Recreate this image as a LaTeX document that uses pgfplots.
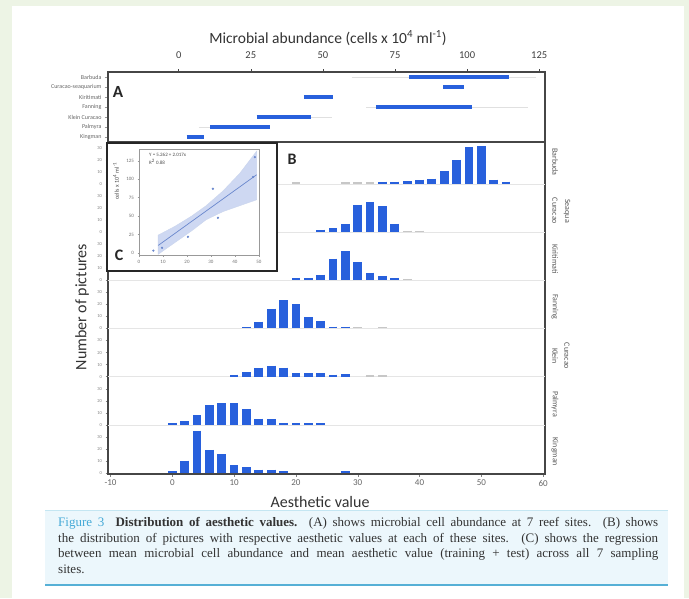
\documentclass[border=0pt]{standalone}
\usepackage{pgfplots}
\pgfplotsset{compat=1.18}
\usepackage{fontspec}
\setmainfont{Liberation Serif}
\newfontfamily\chartfont{Carlito}
\definecolor{barblue}{RGB}{40,96,220}
\definecolor{pagegreen}{RGB}{237,244,229}
\definecolor{capfill}{RGB}{236,247,252}
\definecolor{capline}{RGB}{86,176,214}
\definecolor{capthin}{RGB}{196,230,242}
\definecolor{figblue}{RGB}{70,170,215}
\definecolor{framec}{RGB}{70,70,70}
\definecolor{bandblue}{RGB}{198,210,240}
\definecolor{regline}{RGB}{105,135,205}
\begin{document}
\begin{tikzpicture}
\fill[pagegreen] (0pt,0pt) rectangle (689pt,-598pt);
\path[use as bounding box] (0pt,0pt) rectangle (689pt,-598pt);
\fill[white] (12pt,-6pt) rectangle (684pt,-598pt);
% caption box
\fill[capfill] (45pt,-510pt) rectangle (668pt,-586pt);
\draw[capthin, line width=0.8pt] (45pt,-510pt) -- (668pt,-510pt);
\draw[capline, line width=2.6pt] (45pt,-585pt) -- (668pt,-585pt);
\node[anchor=north west, inner sep=0pt, font=\fontsize{13}{15.7}\selectfont, text=black!80, align=left] at (58pt,-517pt) {%
\makebox[600pt][s]{\textcolor{figblue}{Figure 3}\ \ \textbf{Distribution of aesthetic values.} (A) shows microbial cell abundance at 7 reef sites. (B) shows}\\
\makebox[600pt][s]{the distribution of pictures with respective aesthetic values at each of these sites. (C) shows the regression}\\
\makebox[600pt][s]{between mean microbial cell abundance and mean aesthetic value (training + test) across all 7 sampling}\\
sites.};

% ---------------- Panel A ----------------
\begin{axis}[
  at={(108pt,-72pt)}, anchor=north west,
  scale only axis, width=437pt, height=70pt,
  xmin=-24.5, xmax=127, ymin=0.5, ymax=7.5,
  axis line style={draw=framec, line width=1.4pt},
  /pgf/number format/assume math mode=true,
  xtick={0,25,50,75,100,125},
  xtick pos=right, xticklabel pos=right,
  ytick pos=left,
  tick align=outside, major tick length=3pt,
  tick style={draw=framec, line width=0.5pt},
  ytick={1,...,7},
  yticklabels={Kingman,Palmyra,Klein Curacao,Fanning,Kiritimati,Curacao-seaquarium,Barbuda},
  y tick label style={font=\chartfont\fontsize{6}{6}\selectfont, text=black!60},
  x tick label style={font=\chartfont\fontsize{10.5}{11}\selectfont, text=black!75, yshift=7pt},
  y tick style={draw=black!40, line width=0.3pt},
]
\addplot[black!12, line width=1pt] coordinates {(60,7) (124,7)};
\addplot[black!12, line width=1pt] coordinates {(65,4) (121,4)};
\addplot[black!12, line width=1pt] coordinates {(44,3) (53,3)};
\addplot[black!12, line width=1pt] coordinates {(7,2) (12,2)};
\addplot[barblue, line width=3.6pt] coordinates {(80,7) (114.5,7)};
\addplot[barblue, line width=3.6pt] coordinates {(91.7,6) (99,6)};
\addplot[barblue, line width=3.6pt] coordinates {(43.4,5) (53.5,5)};
\addplot[barblue, line width=3.6pt] coordinates {(68.4,4) (101.7,4)};
\addplot[barblue, line width=3.6pt] coordinates {(27,3) (46,3)};
\addplot[barblue, line width=3.6pt] coordinates {(11,2) (31.6,2)};
\addplot[barblue, line width=3.6pt] coordinates {(2.8,1) (8.7,1)};
\end{axis}

% ---------------- Panel B ----------------
\begin{axis}[
  at={(108pt,-142pt)}, anchor=north west,
  scale only axis, width=437pt, height=332pt,
  xmin=-10.4, xmax=60.3, ymin=-0.2, ymax=68.7,
  axis line style={draw=framec, line width=1.4pt},
  /pgf/number format/assume math mode=true,
  xtick={-10,0,10,20,30,40,50,60},
  xtick pos=left, ytick pos=left,
  tick align=outside, major tick length=2.5pt,
  tick style={draw=black!50, line width=0.4pt},
  x tick label style={font=\chartfont\fontsize{9}{9}\selectfont, text=black!60},
  ytick={0,2.5,5,7.5,10,12.5,15,17.5,20,22.5,25,27.5,30,32.5,35,37.5,40,42.5,45,47.5,50,52.5,55,57.5,60,62.5,65,67.5},
  yticklabels={0,10,20,30,0,10,20,30,0,10,20,30,0,10,20,30,0,10,20,30,0,10,20,30,0,10,20,30},
  y tick label style={font=\chartfont\fontsize{4.5}{5}\selectfont, text=black!50},
]
% faint baselines
\addplot[black!10, line width=0.5pt] coordinates {(-10.4,10) (60.3,10)};
\addplot[black!10, line width=0.5pt] coordinates {(-10.4,20) (60.3,20)};
\addplot[black!10, line width=0.5pt] coordinates {(-10.4,30) (60.3,30)};
\addplot[black!10, line width=0.5pt] coordinates {(-10.4,40) (60.3,40)};
\addplot[black!10, line width=0.5pt] coordinates {(-10.4,50) (60.3,50)};
\addplot[black!10, line width=0.5pt] coordinates {(-10.4,60) (60.3,60)};
% faint grey tiny bars
\addplot[draw=none, mark=none, error bars/.cd, y dir=minus, y explicit, error mark=none,
  error bar style={draw=black!22, line width=8.8pt}] coordinates {
 (20,60.35) -= (0,0.35) (28,60.35) -= (0,0.35) (30,60.35) -= (0,0.35) (32,60.35) -= (0,0.35)
 (38,50.3) -= (0,0.3) (40,50.3) -= (0,0.3)
 (38,40.3) -= (0,0.3)
 (30,30.3) -= (0,0.3) (34,30.3) -= (0,0.3)
 (32,20.3) -= (0,0.3) (34,20.3) -= (0,0.3)
};
% histogram bars
\addplot[draw=none, mark=none, error bars/.cd, y dir=minus, y explicit, error mark=none,
  error bar style={draw=barblue, line width=8.8pt}] coordinates {
 (34,60.5) -= (0,0.5) (36,60.5) -= (0,0.5) (38,60.6) -= (0,0.6) (40,60.9) -= (0,0.9)
 (42,61.1) -= (0,1.1) (44,62.7) -= (0,2.7) (46,65.0) -= (0,5.0) (48,67.7) -= (0,7.7)
 (50,67.8) -= (0,7.8) (52,60.9) -= (0,0.9) (54,60.5) -= (0,0.5)
 (24,50.5) -= (0,0.5) (26,50.8) -= (0,0.8) (28,51.7) -= (0,1.7) (30,55.7) -= (0,5.7)
 (32,56.3) -= (0,6.3) (34,55.4) -= (0,5.4) (36,51.7) -= (0,1.7)
 (20,40.5) -= (0,0.5) (22,40.5) -= (0,0.5) (24,41.2) -= (0,1.2) (26,44.5) -= (0,4.5)
 (28,46.0) -= (0,6.0) (30,43.7) -= (0,3.7) (32,41.6) -= (0,1.6) (34,40.9) -= (0,0.9)
 (36,40.5) -= (0,0.5)
 (12,30.4) -= (0,0.4) (14,31.4) -= (0,1.4) (16,34.1) -= (0,4.1) (18,35.9) -= (0,5.9)
 (20,35.0) -= (0,5.0) (22,32.3) -= (0,2.3) (24,31.6) -= (0,1.6) (26,30.4) -= (0,0.4)
 (28,30.4) -= (0,0.4)
 (10,20.4) -= (0,0.4) (12,20.9) -= (0,0.9) (14,21.9) -= (0,1.9) (16,22.3) -= (0,2.3)
 (18,21.9) -= (0,1.9) (20,20.7) -= (0,0.7) (22,20.7) -= (0,0.7) (24,20.7) -= (0,0.7)
 (26,20.4) -= (0,0.4) (28,20.55) -= (0,0.55)
 (0,10.4) -= (0,0.4) (2,10.8) -= (0,0.8) (4,12.0) -= (0,2.0) (6,14.1) -= (0,4.1)
 (8,14.5) -= (0,4.5) (10,14.5) -= (0,4.5) (12,13.2) -= (0,3.2) (14,11.3) -= (0,1.3)
 (16,11.2) -= (0,1.2) (18,10.4) -= (0,0.4) (20,10.4) -= (0,0.4) (22,10.3) -= (0,0.3)
 (24,10.3) -= (0,0.3)
 (0,0.4) -= (0,0.4) (2,2.6) -= (0,2.6) (4,8.8) -= (0,8.8) (6,4.8) -= (0,4.8)
 (8,3.9) -= (0,3.9) (10,1.6) -= (0,1.6) (12,1.2) -= (0,1.2) (14,0.7) -= (0,0.7)
 (16,0.7) -= (0,0.7) (18,0.4) -= (0,0.4) (28,0.4) -= (0,0.4)
};
\end{axis}

% ---------------- Inset C ----------------
\draw[fill=white, draw=black!85, line width=2pt] (107pt,-143pt) rectangle (277pt,-271pt);
\begin{axis}[
  at={(139pt,-149pt)}, anchor=north west,
  scale only axis, width=120pt, height=106pt,
  xmin=0, xmax=50, ymin=-3, ymax=141,
  axis line style={draw=black!40, line width=0.5pt},
  /pgf/number format/assume math mode=true,
  xtick={0,10,20,30,40,50}, ytick={0,25,50,75,100,125},
  xtick pos=left, ytick pos=left,
  tick align=outside, major tick length=1.5pt,
  tick style={draw=black!40, line width=0.3pt},
  tick label style={font=\chartfont\fontsize{5}{5}\selectfont, text=black!55},
]
\addplot[fill=bandblue, draw=regline!35, fill opacity=0.85] coordinates {(8,24) (15,36) (22,50) (28,64) (35,84) (42,108) (49,138) (49,72) (42,64) (35,56) (28,45) (22,30) (15,14) (8,-2)} -- cycle;
\addplot[regline, line width=0.7pt] coordinates {(8,10) (49,106)};
\addplot[only marks, mark=*, mark size=0.9pt, regline] coordinates {(6,3) (9.6,6.8) (20.4,21.7) (30.8,87) (32.9,47.5) (47.5,103) (48.3,130)};
\end{axis}
\node[anchor=west, inner sep=0pt, font=\chartfont\fontsize{5}{5}\selectfont, text=black!70] at (149pt,-155pt) {Y = 5.262 + 2.017x};
\node[anchor=west, inner sep=0pt, font=\chartfont\fontsize{5}{5}\selectfont, text=black!70] at (149pt,-162pt) {R\textsuperscript{2} 0.88};
\node[rotate=90, inner sep=0pt, font=\chartfont\fontsize{6}{6}\selectfont, text=black!70] at (116pt,-181pt) {cells x 10\textsuperscript{4} ml\textsuperscript{-1}};

% panel letters
\node[font=\chartfont\bfseries\fontsize{17}{17}\selectfont, text=black!85] at (118pt,-92pt) {A};
\node[font=\chartfont\bfseries\fontsize{16}{16}\selectfont, text=black!85] at (292pt,-159pt) {B};
\node[font=\chartfont\bfseries\fontsize{16}{16}\selectfont, text=black!85] at (119pt,-255pt) {C};

% axis titles
\node[font=\chartfont\fontsize{15.5}{16}\selectfont, text=black!80] at (328pt,-38pt) {Microbial abundance (cells x 10\textsuperscript{4} ml\textsuperscript{-1})};
\node[font=\chartfont\fontsize{16}{16}\selectfont, text=black!80] at (320pt,-502pt) {Aesthetic value};
\node[rotate=90, font=\chartfont\fontsize{16}{16}\selectfont, text=black!80] at (82pt,-307pt) {Number of pictures};

% right-side site labels
\begin{scope}[every node/.style={rotate=-90, inner sep=0pt, font=\chartfont\fontsize{8}{8}\selectfont, text=black!65}]
\node at (555pt,-162pt) {Barbuda};
\node at (555pt,-211pt) {Curacao};
\node at (567pt,-211pt) {Seaqua};
\node at (555pt,-259pt) {Kiritimati};
\node at (555pt,-307pt) {Fanning};
\node at (555pt,-356pt) {Klein};
\node at (567pt,-356pt) {Curacao};
\node at (555pt,-404pt) {Palmyra};
\node at (555pt,-452pt) {Kingman};
\end{scope}
\end{tikzpicture}
\end{document}
